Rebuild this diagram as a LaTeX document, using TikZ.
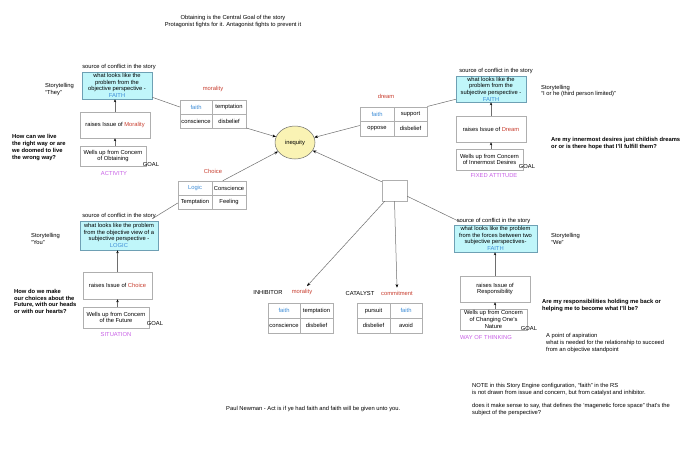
\documentclass[tikz,border=0pt]{standalone}
\usepackage{fontspec}
\setmainfont{Liberation Sans}
\usetikzlibrary{shapes.geometric,arrows.meta,calc}
\definecolor{redt}{RGB}{200,60,45}
\definecolor{bluet}{RGB}{60,140,215}
\definecolor{purp}{RGB}{200,95,230}
\definecolor{cyanf}{RGB}{192,246,250}
\definecolor{cyanb}{RGB}{110,160,180}
\definecolor{boxg}{RGB}{175,175,175}
\definecolor{lineg}{RGB}{110,110,110}
\definecolor{ellf}{RGB}{250,243,180}
\newcommand{\ff}{\fontsize{5.8}{6.7}\selectfont}
\begin{document}
\begin{tikzpicture}[x=1pt,y=-1pt,
  txt/.style={inner sep=0pt,font=\ff},
  lft/.style={txt,align=left,anchor=west},
  qtxt/.style={lft,font=\ff\bfseries},
  cbox/.style={draw=cyanb,fill=cyanf,inner sep=0pt,align=center,font=\ff,line width=0.5pt},
  wbox/.style={draw=boxg,fill=white,inner sep=0pt,align=center,font=\ff,line width=0.5pt},
  cell/.style={draw=boxg,fill=white,inner sep=0pt,font=\ff,line width=0.5pt},
  red/.style={txt,text=redt},
  pur/.style={txt,text=purp},
  ln/.style={draw=lineg,line width=0.5pt},
  arr/.style={ln,-{Stealth[length=3.6pt,width=2.8pt,color=black]}},
  sarr/.style={draw=lineg,line width=0.6pt,-{Stealth[length=3pt,width=2.4pt,color=black]}}]
\useasboundingbox[fill=white] (0,0) rectangle (690,450);

% title
\node[txt,align=center] (title) at (233,21.5) {Obtaining is the Central Goal of the story\\Protagonist fights for it. Antagonist fights to prevent it};

% central ellipse
\node[ellipse,draw=lineg,fill=ellf,minimum width=40pt,minimum height=33pt,inner sep=0pt,font=\ff,line width=0.5pt] (ineq) at (295,142.5) {inequity};

% ---------- top-left cluster ----------
\node[txt] (srcTL) at (119,67) {source of conflict in the story};
\node[cbox,minimum width=70pt,minimum height=27pt] (cyanTL) at (117,85.5) {what looks like the\\problem from the\\objective perspective -\\\textcolor{bluet}{FAITH}};
\node[lft] (storyTL) at (45,89.5) {Storytelling\\“They”};
\node[wbox,minimum width=70pt,minimum height=26pt] (raisesTL) at (115,125) {raises Issue of \textcolor{redt}{Morality}};
\node[wbox,minimum width=66pt,minimum height=20pt] (wellsTL) at (113,156) {Wells up from Concern\\of Obtaining};
\node[txt] (goalTL) at (151,164) {GOAL};
\node[pur] (actTL) at (114,173) {ACTIVITY};
\node[qtxt] (qTL) at (12,147.5) {How can we live\\the right way or are\\we doomed to live\\the wrong way?};
\draw[sarr] (raisesTL.north) -- (raisesTL.north |- cyanTL.south);
\draw[sarr] (raisesTL.south |- wellsTL.north) -- (raisesTL.south);

% morality quad
\node[red] (morTL) at (213,89) {morality};
\node[cell,minimum width=32pt,minimum height=14pt] (mqA) at (196,107) {\textcolor{bluet}{faith}};
\node[cell,minimum width=34pt,minimum height=14pt] (mqB) at (229,107) {temptation};
\node[cell,minimum width=32pt,minimum height=14pt] (mqC) at (196,121) {conscience};
\node[cell,minimum width=34pt,minimum height=14pt] (mqD) at (229,121) {disbelief};
\draw[ln] ($(cyanTL.south east)+(0,-2)$) -- (mqA.west);
\draw[arr] (mqD.-22) -- (ineq);

% choice quad
\node[red] (choice) at (213,171) {Choice};
\node[cell,minimum width=34pt,minimum height=14pt] (cqA) at (195,188) {\textcolor{bluet}{Logic}};
\node[cell,minimum width=34pt,minimum height=14pt] (cqB) at (229,188) {Conscience};
\node[cell,minimum width=34pt,minimum height=14pt] (cqC) at (195,202) {Temptation};
\node[cell,minimum width=34pt,minimum height=14pt] (cqD) at (229,202) {Feeling};
\draw[arr] ($(cqB.north west)+(11,0)$) -- (ineq);

% ---------- bottom-left cluster ----------
\node[txt] (srcBL) at (119,216) {source of conflict in the story};
\node[cbox,minimum width=78pt,minimum height=29pt] (cyanBL) at (119,235.5) {what looks like the problem\\from the objective view of a\\subjective perspective -\\\textcolor{bluet}{LOGIC}};
\node[lft] (storyBL) at (31,239) {Storytelling\\“You”};
\node[wbox,minimum width=69pt,minimum height=27pt] (raisesBL) at (117.5,285.5) {raises Issue of \textcolor{redt}{Choice}};
\node[wbox,minimum width=66pt,minimum height=21pt] (wellsBL) at (116,317.5) {Wells up from Concern\\of the Future};
\node[txt] (goalBL) at (155,323) {GOAL};
\node[pur] (sitBL) at (116,334) {SITUATION};
\node[qtxt] (qBL) at (14,301.5) {How do we make\\our choices about the\\Future, with our heads\\or with our hearts?};
\draw[sarr] (raisesBL.north) -- (raisesBL.north |- cyanBL.south);
\draw[sarr] (raisesBL.south |- wellsBL.north) -- (raisesBL.south);
\draw[ln] ($(cqC.west)+(0,1)$) -- ($(cyanBL.north east)+(-6,-2)$);

% ---------- top-right cluster ----------
\node[txt] (srcTR) at (496,71) {source of conflict in the story};
\node[cbox,minimum width=70pt,minimum height=26pt] (cyanTR) at (491,89) {what looks like the\\problem from the\\subjective perspective -\\\textcolor{bluet}{FAITH}};
\node[lft] (storyTR) at (541,91) {Storytelling\\“I or he (third person limited)”};
\node[wbox,minimum width=70pt,minimum height=26pt] (raisesTR) at (491,129) {raises Issue of \textcolor{redt}{Dream}};
\node[wbox,minimum width=67pt,minimum height=21pt] (wellsTR) at (489.5,159.5) {Wells up from Concern\\of Innermost Desires};
\node[txt] (goalTR) at (527,166) {GOAL};
\node[pur] (fixTR) at (494,176) {FIXED ATTITUDE};
\node[qtxt] (qTR) at (551,143.5) {Are my innermost desires just childish dreams\\or or is there hope that I’ll fulfill them?};
\draw[sarr] (raisesTR.north) -- (raisesTR.north |- cyanTR.south);
\draw[sarr] (raisesTR.south |- wellsTR.north) -- (raisesTR.south);

% dream quad
\node[red] (dream) at (386,96) {dream};
\node[cell,minimum width=34pt,minimum height=14.5pt] (dqA) at (377,114) {\textcolor{bluet}{faith}};
\node[cell,minimum width=33pt,minimum height=14.5pt] (dqB) at (410.5,114) {support};
\node[cell,minimum width=34pt,minimum height=14.5pt] (dqC) at (377,128.5) {oppose};
\node[cell,minimum width=33pt,minimum height=14.5pt] (dqD) at (410.5,128.5) {disbelief};
\draw[ln] (dqB.north east) -- ($(cyanTR.south west)+(0,-3)$);
\draw[arr] ($(dqC.west)+(0,-3)$) -- (ineq);

% ---------- small box ----------
\node[draw=boxg,fill=white,minimum width=25pt,minimum height=21pt,inner sep=0pt,line width=0.5pt] (sb) at (394.5,190.5) {};
\draw[arr] ($(sb.north west)+(0,2)$) -- (ineq);

% ---------- bottom-right cluster ----------
\node[txt] (srcBR) at (493.5,221) {source of conflict in the story};
\node[cbox,minimum width=83pt,minimum height=27pt] (cyanBR) at (495.5,238.5) {what looks like the problem\\from the forces between two\\subjective perspectives-\\\textcolor{bluet}{FAITH}};
\node[lft] (storyBR) at (551,239) {Storytelling\\“We”};
\node[wbox,minimum width=70pt,minimum height=26pt] (raisesBR) at (495,289) {raises Issue of\\Responsibility};
\node[wbox,minimum width=67pt,minimum height=21pt] (wellsBR) at (493.5,319.5) {Wells up from Concern\\of Changing One’s\\Nature};
\node[txt] (goalBR) at (529,328) {GOAL};
\node[pur] (wotBR) at (486,337) {WAY OF THINKING};
\node[qtxt] (qBR) at (542,305.5) {Are my responsibilities holding me back or\\helping me to become what I’ll be?};
\node[lft] (aspir) at (546,343) {A point of aspiration\\what is needed for the relationship to succeed\\from an objective standpoint};
\draw[sarr] (raisesBR.north) -- (raisesBR.north |- cyanBR.south);
\draw[sarr] (raisesBR.south |- wellsBR.north) -- (raisesBR.south);
\draw[ln] ($(sb.south east)+(0,-5)$) -- ($(cyanBR.north west)+(6,-3)$);

% ---------- inhibitor ----------
\node[txt] (inh) at (268,292) {INHIBITOR};
\node[red] (inhMor) at (302,292) {morality};
\node[cell,minimum width=32pt,minimum height=15pt] (iqA) at (284,310.5) {\textcolor{bluet}{faith}};
\node[cell,minimum width=33pt,minimum height=15pt] (iqB) at (316.5,310.5) {temptation};
\node[cell,minimum width=32pt,minimum height=15pt] (iqC) at (284,325.5) {conscience};
\node[cell,minimum width=33pt,minimum height=15pt] (iqD) at (316.5,325.5) {disbelief};
\draw[arr] ($(sb.south west)+(3,0)$) -- ($(inhMor.north)+(5,-3)$);

% ---------- catalyst ----------
\node[txt] (cat) at (360,293) {CATALYST};
\node[red] (catMor) at (397,293) {commitment};
\node[cell,minimum width=33pt,minimum height=15pt] (kqA) at (373.5,310.5) {pursuit};
\node[cell,minimum width=32pt,minimum height=15pt] (kqB) at (406,310.5) {\textcolor{bluet}{faith}};
\node[cell,minimum width=33pt,minimum height=15pt] (kqC) at (373.5,325.5) {disbelief};
\node[cell,minimum width=32pt,minimum height=15pt] (kqD) at (406,325.5) {avoid};
\draw[arr] (sb.south) -- ($(catMor.north)+(0,-3)$);

% ---------- bottom notes ----------
\node[lft] (paul) at (226,409) {Paul Newman - Act is if ye had faith and faith will be given unto you.};
\node[lft] (note1) at (472,389.5) {NOTE in this Story Engine configuration, “faith” in the RS\\is not drawn from issue and concern, but from catalyst and inhibitor.};
\node[lft] (note2) at (472,409.5) {does it make sense to say, that defines the ‘magenetic force space” that’s the\\subject of the perspective?};
\end{tikzpicture}
\end{document}
